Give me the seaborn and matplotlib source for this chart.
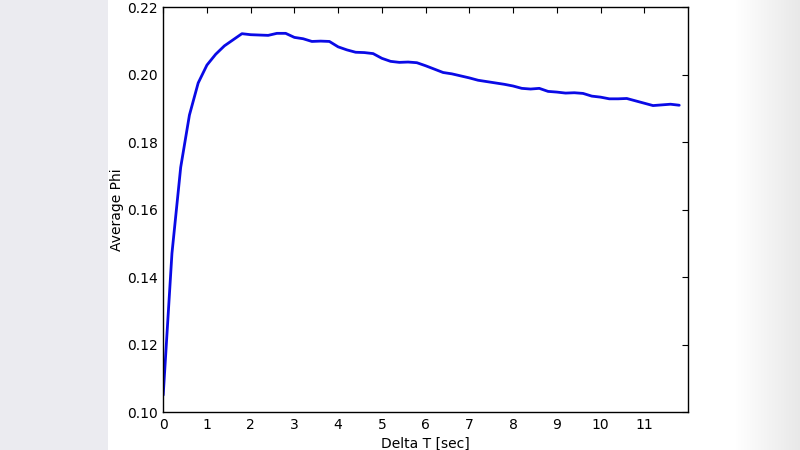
import numpy as np
import pandas as pd
import matplotlib
matplotlib.use("Agg")
import matplotlib.pyplot as plt
import seaborn as sns

# tiempo (s) y valor medio de phi
delta_t = [round(0.2 * i, 1) for i in range(60)]
avg_phi = [0.1050, 0.1470, 0.1725, 0.1880, 0.1975, 0.2028, 0.2060, 0.2085, 0.2103, 0.2121,
           0.2118, 0.2117, 0.2116, 0.2122, 0.2122, 0.2110, 0.2106, 0.2098, 0.2099, 0.2098,
           0.2082, 0.2073, 0.2066, 0.2065, 0.2062, 0.2048, 0.2039, 0.2036, 0.2037, 0.2035,
           0.2026, 0.2016, 0.2006, 0.2002, 0.1996, 0.1990, 0.1983, 0.1979, 0.1975, 0.1971,
           0.1966, 0.1959, 0.1957, 0.1959, 0.1950, 0.1948, 0.1945, 0.1946, 0.1944, 0.1936,
           0.1933, 0.1928, 0.1928, 0.1929, 0.1922, 0.1915, 0.1908, 0.1910, 0.1912, 0.1909]
x_ticks = list(range(12))
y_ticks = [0.10, 0.12, 0.14, 0.16, 0.18, 0.20, 0.22]

df = pd.DataFrame({'delta_t': delta_t, 'avg_phi': avg_phi})

sns.set_style('white')
plt.rcParams['font.family'] = ['DejaVu Sans']

fig = plt.figure(figsize=(8, 4.5), dpi=100)
fig.patch.set_facecolor('white')

# fondo difuminado de la captura (bordes grises)
bg = fig.add_axes([0, 0, 1, 1], zorder=-10)
grad = np.ones((10, 800, 3))
grad[:, :108, :] = [0.925, 0.925, 0.945]
ramp = np.clip((np.arange(800) - 735) / 65.0, 0, 1)
grad = grad - 0.09 * ramp[None, :, None]
bg.imshow(grad, aspect='auto', extent=[0, 1, 0, 1])
bg.axis('off')

ax = fig.add_axes([0.204, 0.0844, 0.656, 0.9])
sns.lineplot(data=df, x='delta_t', y='avg_phi', ax=ax, color='#0a0ae6', linewidth=2)

ax.set_xlim(0, 12)
ax.set_ylim(0.10, 0.22)
ax.set_xticks(x_ticks)
ax.set_yticks(y_ticks)
ax.set_yticklabels([f'{v:.2f}' for v in y_ticks])
ax.tick_params(direction='in', length=4, width=0.8, top=True, right=True,
               labelsize=10, colors='black', pad=4)
for s in ax.spines.values():
    s.set_color('black')
    s.set_linewidth(1)
ax.set_xlabel('Delta T [sec]', fontsize=10, labelpad=4, color='black')
ax.set_ylabel('Average Phi', fontsize=10, labelpad=2, color='black')

fig.savefig('out.png', dpi=100)
